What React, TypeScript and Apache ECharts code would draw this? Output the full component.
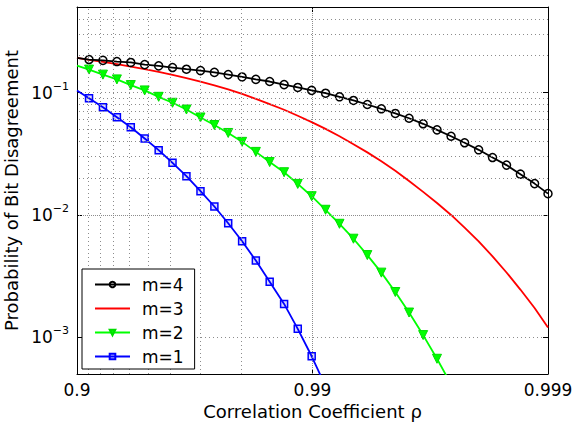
import React, { useEffect, useRef } from "react";
import * as echarts from "echarts";

// x positions expressed as 1 - rho (axis is logarithmic in 1 - rho, reversed)
const oneMinusRho = [
  0.1, 0.0889, 0.0776, 0.0677, 0.0591, 0.0516, 0.045, 0.0393, 0.0343, 0.0299,
  0.0261, 0.0228, 0.0199, 0.0174, 0.0152, 0.0132, 0.01155, 0.01008, 0.0088,
  0.00768, 0.0067, 0.00585, 0.0051, 0.00445, 0.00389, 0.00339, 0.00296,
  0.00258, 0.00226, 0.00197, 0.00172, 0.0015, 0.00131, 0.00114, 0.001,
];

const pM4 = [
  0.192, 0.186, 0.183, 0.179, 0.176, 0.169, 0.165, 0.16, 0.155, 0.151, 0.146,
  0.14, 0.134, 0.128, 0.123, 0.116, 0.11, 0.104, 0.0987, 0.0922, 0.0861,
  0.0798, 0.0736, 0.0674, 0.0616, 0.0555, 0.0495, 0.0439, 0.0388, 0.034,
  0.0294, 0.0255, 0.0215, 0.018, 0.0149,
];

const pM3 = [
  0.192, 0.1849, 0.1778, 0.1706, 0.1629, 0.1552, 0.1472, 0.1393, 0.1312,
  0.123, 0.1146, 0.1059, 0.0973, 0.0887, 0.0804, 0.0723, 0.0646, 0.0573,
  0.0504, 0.0439, 0.0378, 0.0324, 0.0274, 0.0229, 0.0189, 0.0154, 0.0125,
  0.00998, 0.00785, 0.00607, 0.00458, 0.00338, 0.00245, 0.00173, 0.0012,
];

const pM2 = [
  0.166, 0.154, 0.14, 0.128, 0.115, 0.104, 0.0922, 0.0824, 0.0726, 0.0625,
  0.0542, 0.0467, 0.0395, 0.0327, 0.027, 0.0223, 0.0179, 0.0142, 0.011,
  0.00845, 0.00638, 0.00469, 0.00337, 0.00234, 0.00159, 0.00104, 0.000666,
  0.000412,
];

const pM1 = [
  0.1038, 0.0898, 0.0758, 0.0628, 0.052, 0.0421, 0.0338, 0.0266, 0.0207,
  0.0156, 0.0117, 0.00853, 0.00608, 0.00423, 0.00284, 0.00187, 0.00117,
  0.000698, 0.000397,
];

const seriesNames = ["m=4", "m=3", "m=2", "m=1"];

// minor grid positions (2..9 within each decade)
const xMinorTicks = [
  0.09, 0.08, 0.07, 0.06, 0.05, 0.04, 0.03, 0.02,
  0.009, 0.008, 0.007, 0.006, 0.005, 0.004, 0.003, 0.002,
];
const yMinorTicks = [
  0.0006, 0.0007, 0.0008, 0.0009,
  0.002, 0.003, 0.004, 0.005, 0.006, 0.007, 0.008, 0.009,
  0.02, 0.03, 0.04, 0.05, 0.06, 0.07, 0.08, 0.09,
  0.2, 0.3, 0.4,
];

const FONT = "'DejaVu Sans', sans-serif";
const GRID_COLOR = "#8c8c8c";

function build(values: number[], withSymbols: boolean) {
  return values.map((v, i) => {
    const item: any = { value: [oneMinusRho[i], v] };
    if (i === 0 || !withSymbols) item.symbol = "none";
    return item;
  });
}

export default function App() {
  const ref = useRef<HTMLDivElement>(null);

  useEffect(() => {
    document.body.style.margin = "0";
    if (!ref.current) return;
    const chart = echarts.init(ref.current, null, {
      renderer: "svg",
      width: 574,
      height: 426,
    });

    const axisCommonX = {
      type: "log",
      logBase: 10,
      min: 0.001,
      max: 0.1,
      inverse: true,
    };
    const axisCommonY = {
      type: "log",
      logBase: 10,
      min: 0.0005,
      max: 0.5,
    };
    const dotted = { color: GRID_COLOR, type: [1, 3], width: 1 };

    const option: any = {
      animation: false,
      backgroundColor: "#ffffff",
      grid: {
        left: 77,
        right: 26,
        top: 7,
        bottom: 52,
        containLabel: false,
        outerBoundsMode: "none",
      },
      legend: {
        data: seriesNames,
        orient: "vertical",
        left: 82,
        top: 269,
        padding: [7, 11, 4, 12],
        itemGap: 7,
        itemWidth: 35,
        itemHeight: 7,
        borderColor: "#000",
        borderWidth: 1,
        borderRadius: 0,
        backgroundColor: "#ffffff",
        selectedMode: false,
        z: 10,
        textStyle: {
          fontFamily: FONT,
          fontSize: 17,
          color: "#000",
          lineHeight: 17,
          padding: [0, 0, 0, 7],
        },
      },
      xAxis: [
        {
          ...axisCommonX,
          position: "bottom",
          axisLine: { show: true, lineStyle: { color: "#000", width: 1 } },
          axisTick: { show: true, inside: true, length: 5, lineStyle: { color: "#000" } },
          axisLabel: {
            margin: 7,
            fontFamily: FONT,
            fontSize: 17,
            color: "#000",
            formatter: (v: number) => String(Number((1 - v).toFixed(3))),
          },
          splitLine: { show: true, lineStyle: dotted },
          name: "Correlation Coefficient ρ",
          nameLocation: "middle",
          nameGap: 26,
          nameTextStyle: { fontFamily: FONT, fontSize: 18, color: "#000" },
        },
        {
          ...axisCommonX,
          position: "top",
          axisLine: { show: true, lineStyle: { color: "#000", width: 1 } },
          axisTick: { show: true, inside: true, length: 5, lineStyle: { color: "#000" } },
          axisLabel: { show: false },
          splitLine: { show: false },
        },
      ],
      yAxis: [
        {
          ...axisCommonY,
          position: "left",
          axisLine: { show: true, lineStyle: { color: "#000", width: 1 } },
          axisTick: { show: true, inside: true, length: 5, lineStyle: { color: "#000" } },
          axisLabel: {
            margin: 8,
            color: "#000",
            formatter: (v: number) => {
              const l = Math.log10(v);
              const e = Math.round(l);
              if (Math.abs(l - e) > 1e-6) return "";
              return `{b|10}{s|${e < 0 ? "\u2212" : ""}${Math.abs(e)}}`;
            },
            rich: {
              b: { fontFamily: FONT, fontSize: 17, color: "#000" },
              s: { fontFamily: FONT, fontSize: 11, color: "#000", padding: [0, 0, 13, 0] },
            },
          },
          splitLine: { show: true, lineStyle: dotted },
          name: "Probability of Bit Disagreement",
          nameLocation: "middle",
          nameGap: 48,
          nameTextStyle: { fontFamily: FONT, fontSize: 18, color: "#000" },
        },
        {
          ...axisCommonY,
          position: "right",
          axisLine: { show: true, lineStyle: { color: "#000", width: 1 } },
          axisTick: { show: true, inside: true, length: 5, lineStyle: { color: "#000" } },
          axisLabel: { show: false },
          splitLine: { show: false },
        },
      ],
      series: [
        {
          name: "minor-grid",
          type: "line",
          data: [[0.05, 0.05]],
          symbol: "none",
          lineStyle: { opacity: 0 },
          silent: true,
          z: 1,
          markLine: {
            silent: true,
            symbol: ["none", "none"],
            label: { show: false },
            lineStyle: dotted,
            emphasis: { disabled: true },
            data: [
              ...xMinorTicks.map((v) => ({ xAxis: v })),
              ...yMinorTicks.map((v) => ({ yAxis: v })),
            ],
          },
        },
        {
          name: "m=3",
          type: "line",
          data: build(pM3, false),
          symbol: "none",
          lineStyle: { color: "#ff0000", width: 1.8 },
          itemStyle: { color: "rgba(255,0,0,0)", borderColor: "rgba(255,0,0,0)" },
          silent: true,
          z: 3,
        },
        {
          name: "m=4",
          type: "line",
          data: build(pM4, true),
          symbol: "circle",
          symbolSize: 8,
          showAllSymbol: true,
          lineStyle: { color: "#000000", width: 1.8 },
          itemStyle: { color: "rgba(0,0,0,0)", borderColor: "#000000", borderWidth: 1.5 },
          silent: true,
          z: 4,
        },
        {
          name: "m=2",
          type: "line",
          data: build(pM2, true),
          symbol: "triangle",
          symbolRotate: 180,
          symbolSize: 9,
          showAllSymbol: true,
          lineStyle: { color: "#00ff00", width: 1.8 },
          itemStyle: { color: "#00ff00", borderColor: "#00dd00", borderWidth: 1 },
          silent: true,
          z: 4,
        },
        {
          name: "m=1",
          type: "line",
          data: build(pM1, true),
          symbol: "rect",
          symbolSize: 7,
          showAllSymbol: true,
          lineStyle: { color: "#0000ff", width: 1.8 },
          itemStyle: { color: "rgba(0,0,255,0.15)", borderColor: "#0000ff", borderWidth: 1.5 },
          silent: true,
          z: 4,
        },
      ],
    };

    chart.setOption(option);
    return () => chart.dispose();
  }, []);

  return <div ref={ref} style={{ width: 574, height: 426 }} />;
}
